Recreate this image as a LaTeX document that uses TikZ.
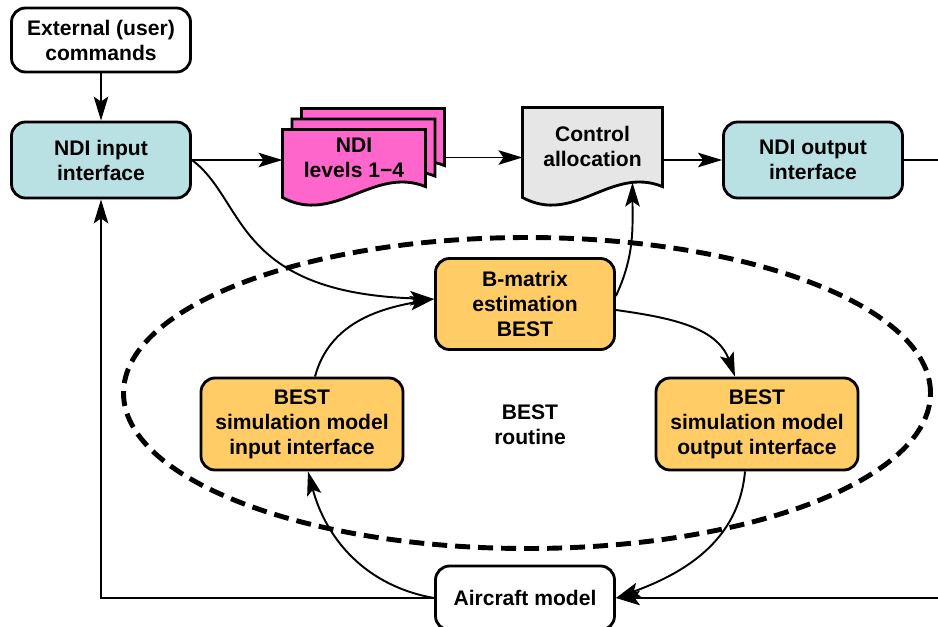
\documentclass[tikz,border=0pt]{standalone}
\usepackage{fontspec}
\setmainfont{Liberation Sans}
\usetikzlibrary{positioning, arrows.meta, backgrounds, calc}
\definecolor{ndiblue}{RGB}{185,224,227}
\definecolor{bestorange}{RGB}{255,204,102}
\definecolor{ndipink}{RGB}{255,102,204}
\definecolor{allocgray}{RGB}{230,230,230}

% document sheet with a wavy lower edge: fill, south west, north east
\newcommand{\docsheet}[3]{%
  \draw[sheet, fill=#1] let \p1 = (#2), \p2 = (#3) in
    (\x1,\y2) -- (\x2,\y2) -- (\x2,\y1-0.6pt)
    .. controls (\x2-29.5pt,\y1+11.4pt) and (\x1+29.5pt,\y1-22.8pt) ..
    (\x1,\y1-6.8pt) -- cycle;}

\begin{document}
\begin{tikzpicture}[semithick,
    txt/.style = {font=\fontsize{12}{14.2}\selectfont\bfseries, align=center},
    box/.style = {txt, rectangle, rounded corners=0.28cm, draw, line width=1.6pt,
                  minimum width=3.58cm, minimum height=1.52cm},
    doc/.style = {txt, rectangle, inner sep=0pt},
    sheet/.style = {draw, line width=1.6pt},
    conn/.style = {-{Stealth[length=4.8mm, width=2.9mm, inset=1.0mm]}, line width=1.1pt},
    wire/.style = {line width=1.1pt},
    routine/.style = {dash pattern=on 0.30cm off 0.16cm, line width=2.8pt}]

    \useasboundingbox (0,0) rectangle (18.76,-12.52);

    %\node [estilo] (nombre) at (x,y) {};
    \node[box, fill=white, minimum height=1.28cm] (ext) at (2.02,-0.80) {External (user)\\commands};
    \node[box, fill=ndiblue] (ndiin) at (2.02,-3.20) {NDI input\\interface};
    \node[doc, minimum width=2.84cm, minimum height=1.10cm] (levels) at (7.08,-3.15) {NDI\\levels 1−4};
    \node[doc, minimum width=2.78cm, minimum height=1.54cm] (ctrl) at (11.85,-2.93) {Control\\allocation};
    \node[box, fill=ndiblue] (ndiout) at (16.26,-3.20) {NDI output\\interface};
    \node[box, fill=bestorange, minimum height=1.82cm] (bmat) at (10.50,-6.08) {B-matrix\\estimation\\BEST};
    \node[box, fill=bestorange, minimum width=4.04cm, minimum height=1.84cm] (bestin) at (6.04,-8.48) {BEST\\simulation model\\input interface};
    \node[box, fill=bestorange, minimum width=4.04cm, minimum height=1.84cm] (bestout) at (15.14,-8.48) {BEST\\simulation model\\output interface};
    \node[txt] (routinelabel) at (10.60,-8.50) {BEST\\routine};
    \node[box, fill=white, minimum height=1.28cm] (aircraft) at (10.50,-11.96) {Aircraft model};

    \begin{scope}[on background layer]
        \docsheet{ndipink}{$(levels.south west)+(0.38,0.42)$}{$(levels.north east)+(0.38,0.42)$}
        \docsheet{ndipink}{$(levels.south west)+(0.19,0.21)$}{$(levels.north east)+(0.19,0.21)$}
        \docsheet{ndipink}{levels.south west}{levels.north east}
        \docsheet{allocgray}{ctrl.south west}{ctrl.north east}
    \end{scope}

    \draw[routine] (10.54,-7.86) ellipse [x radius=8.07, y radius=3.11];

    \coordinate (outR) at (18.76,-3.20);
    \coordinate (inR) at (18.76,-11.96);

    \draw[conn] (ext) -- (ndiin);
    \draw[conn] (ndiin.east) -- (ndiin.east -| levels.west);
    \draw[conn] ([xshift=0.38cm]levels.east) -- (levels.east -| ctrl.west);
    \draw[conn] (ctrl.east |- ndiout.west) -- (ndiout.west);
    \draw[wire] (ndiout.east) -- (outR);
    \draw[conn] (inR) -- (aircraft.east);
    \draw[conn] (aircraft.west) -| (ndiin.south);
    \draw[conn] (ndiin.east) .. controls +(1.08,-0.80) and +(-4.02,0.12) .. ([yshift=0.1cm]bmat.west);
    \draw[conn] ([xshift=0.26cm]bestin.north) to[out=75, in=190] ([yshift=0.1cm]bmat.west);
    \draw[conn] ([yshift=0.16cm]bmat.east) to[out=65, in=-90] ([xshift=0.8cm, yshift=0.06cm]ctrl.south);
    \draw[conn] ([yshift=-0.12cm]bmat.east) to[out=-8, in=110] ([xshift=-0.44cm]bestout.north);
    \draw[conn] (aircraft.west) to[out=170, in=-75] ([xshift=0.12cm]bestin.south);
    \draw[conn] ([xshift=-0.24cm]bestout.south) to[out=-95, in=20] (aircraft.east);
\end{tikzpicture}
\end{document}
